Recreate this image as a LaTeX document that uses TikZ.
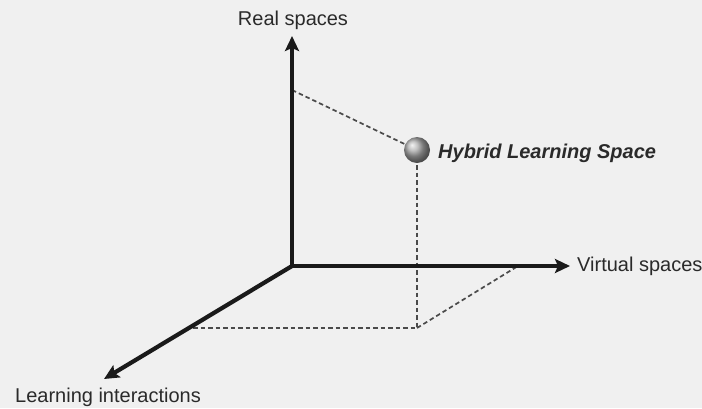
\documentclass[tikz,border=0pt]{standalone}
\usepackage{fontspec}
\setmainfont{Liberation Sans}
\usetikzlibrary{arrows.meta}
\definecolor{bgc}{HTML}{F0F0F0}
\definecolor{axisc}{HTML}{1A1A1A}
\definecolor{txtc}{HTML}{2A2A2A}
\definecolor{dashc}{HTML}{4A4A4A}
\tikzset{
  axisline/.style={line width=4.2pt, draw=axisc, -{Stealth[length=15pt,width=14pt,inset=3pt]}},
  guide/.style={line width=1.7pt, draw=dashc, dash pattern=on 4.5pt off 3pt},
  lbl/.style={text=txtc, font=\fontsize{20pt}{24pt}\selectfont, inner sep=0pt},
}
\begin{document}
\begin{tikzpicture}[x=1pt,y=-1pt]
\fill[bgc] (0,0) rectangle (702,408);
\useasboundingbox (0,0) rectangle (702,408);
% points
\coordinate (O) at (292,266);
\coordinate (tipR) at (292,36);
\coordinate (tipV) at (570,266);
\coordinate (tipL) at (104,379);
\coordinate (rP) at (292,90);
\coordinate (vP) at (518,266);
\coordinate (lP) at (193,328);
\coordinate (base) at (417,328);
\coordinate (S) at (417,150);
% guides
\draw[guide] (rP) -- (S);
\draw[guide] (S) -- (base);
\draw[guide] (lP) -- (base);
\draw[guide] (base) -- (vP);
% axes
\draw[axisline] (O) -- (tipR);
\draw[axisline] (O) -- (tipV);
\draw[axisline] (O) -- (tipL);
% sphere
\shade[ball color=gray!65] (S) circle (13);
% labels
\node[lbl, anchor=center] (lr) at (293,20) {Real spaces};
\node[lbl, anchor=west] (lv) at (577,266) {Virtual spaces};
\node[lbl, anchor=west] (ll) at (15,397) {Learning interactions};
\node[lbl, anchor=west, font=\fontsize{20pt}{24pt}\selectfont\bfseries\itshape] (lh) at (438,153) {Hybrid Learning Space};
\end{tikzpicture}
\end{document}
